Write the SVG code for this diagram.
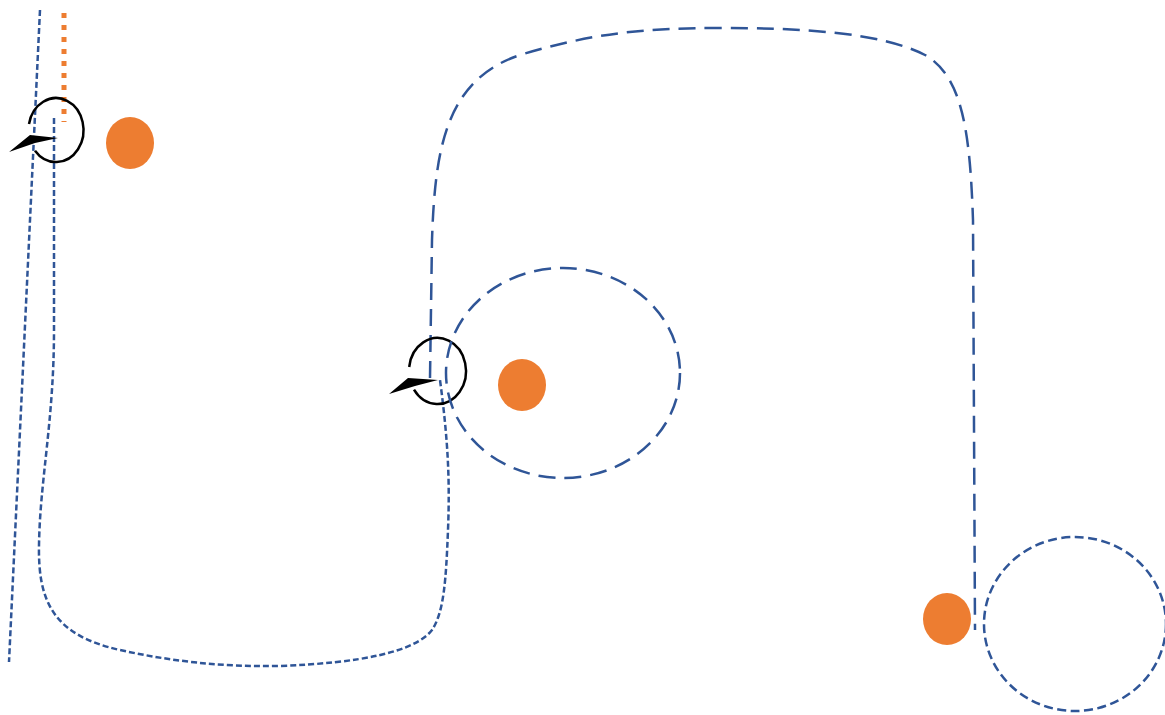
<svg xmlns="http://www.w3.org/2000/svg" width="1165" height="715" viewBox="0 0 1165 715">
<style>
.sd{fill:none;stroke:#2F5597;stroke-width:2.5;stroke-dasharray:6 3}
.md{fill:none;stroke:#2F5597;stroke-width:2.5;stroke-dasharray:9 4.5}
.ld{fill:none;stroke:#2F5597;stroke-width:2.5;stroke-dasharray:17 9}
.dot{fill:#ED7D31}
.ring{fill:none;stroke:#000;stroke-width:2.5}
.head{fill:#000}
</style>
<rect width="1165" height="715" fill="#fff"/>
<g id="connectors">
<path class="sd" d="M40,10 L9,662"/>
<path d="M64,13 L64,122" fill="none" stroke="#ED7D31" stroke-width="5" stroke-dasharray="5 7"/>
<path class="sd" d="M54,118 L54,330 C54,420 40,480 39,545 C38,600 52,635 120,650 C170,661 220,667 280,666 C360,663 415,652 432,630 C444,612 446,580 448,530 C450,480 448,440 440,380"/>
<path class="ld" d="M430,378 L432,240 C435,150 445,80 520,55 C590,34 640,28 720,28 C800,28 880,32 925,55 C962,76 970,130 973,220 L975,630"/>
</g>
<g id="node-ring-left">
<path class="ring" d="M29,124 A27.5,32 0 1 1 35,150.7"/>
<polygon class="head" points="9,152 30,135 58,138 35,143"/>
</g>
<g id="node-ring-mid">
<path class="ring" d="M409.2,367 A28.5,33 0 1 1 414,389.7"/>
<polygon class="head" points="389,394 408,378 438,380 415,386"/>
</g>
<g id="node-ellipse-mid">
<ellipse class="ld" cx="563" cy="373" rx="117" ry="105"/>
</g>
<g id="node-circle-right">
<ellipse class="md" cx="1075" cy="624" rx="91" ry="87"/>
</g>
<g id="node-dot-1"><ellipse class="dot" cx="130" cy="143" rx="24" ry="26"/></g>
<g id="node-dot-2"><ellipse class="dot" cx="522" cy="385" rx="24" ry="26"/></g>
<g id="node-dot-3"><ellipse class="dot" cx="947" cy="619" rx="24" ry="26"/></g>
</svg>
